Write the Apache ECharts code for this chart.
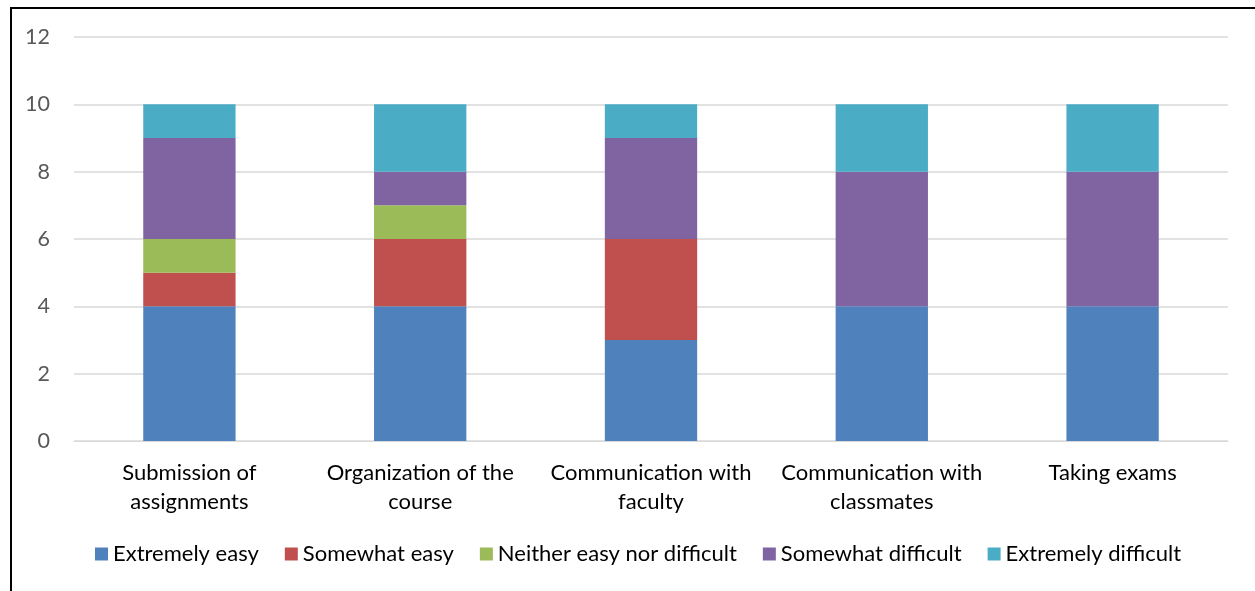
<!DOCTYPE html>
<html>
<head>
<meta charset="utf-8">
<script src="https://cdn.jsdelivr.net/npm/echarts@6/dist/echarts.min.js"></script>
<style>
  html, body { margin: 0; padding: 0; background: #fff; }
  #frame {
    position: absolute; left: 10px; top: 7px; width: 1260px; height: 600px;
    border-left: 2px solid #000; border-top: 2px solid #000;
  }
  #chart { position: absolute; left: 0; top: 0; width: 1255px; height: 591px; }
</style>
</head>
<body>
<div id="frame"></div>
<div id="chart"></div>
<script>
const categories = [
  'Submission of\nassignments',
  'Organization of the\ncourse',
  'Communication with\nfaculty',
  'Communication with\nclassmates',
  'Taking exams'
]
const extremelyEasy = [4, 4, 3, 4, 4]
const somewhatEasy = [1, 2, 3, 0, 0]
const neither = [1, 1, 0, 0, 0]
const somewhatDifficult = [3, 1, 3, 4, 4]
const extremelyDifficult = [1, 2, 1, 2, 2]

const seriesDefs = [
  { name: 'Extremely easy', data: extremelyEasy, color: '#4F81BD' },
  { name: 'Somewhat easy', data: somewhatEasy, color: '#C0504D' },
  { name: 'Neither easy nor difficult', data: neither, color: '#9BBB59' },
  { name: 'Somewhat difficult', data: somewhatDifficult, color: '#8064A2' },
  { name: 'Extremely difficult', data: extremelyDifficult, color: '#4BACC6' },
]

const font = 'Lato, "Open Sans", sans-serif'
const chart = echarts.init(document.getElementById('chart'))

chart.setOption({
  animation: false,
  textStyle: { fontFamily: font },
  grid: { left: 74, right: 27, top: 37, bottom: 150 },
  legend: {
    bottom: 21,
    left: 90,
    itemWidth: 13,
    itemHeight: 13,
    itemGap: 26,
    icon: 'rect',
    textStyle: { fontSize: 22, color: '#000', fontFamily: font },
    data: seriesDefs.map(s => s.name),
  },
  xAxis: {
    type: 'category',
    data: categories,
    axisLine: { lineStyle: { color: '#d9d9d9', width: 1 } },
    axisTick: { show: false },
    axisLabel: {
      color: '#000',
      fontSize: 22,
      lineHeight: 29,
      margin: 17,
      interval: 0,
      fontFamily: font,
    },
  },
  yAxis: {
    type: 'value',
    min: 0,
    max: 12,
    interval: 2,
    axisLine: { show: false },
    axisTick: { show: false },
    splitLine: { lineStyle: { color: '#d9d9d9', width: 1.5 } },
    axisLabel: { color: '#595959', fontSize: 21.5, margin: 24, fontFamily: font },
  },
  series: seriesDefs.map(s => ({
    name: s.name,
    type: 'bar',
    stack: 'total',
    barWidth: '40%',
    data: s.data,
    itemStyle: { color: s.color },
  })),
})
</script>
</body>
</html>
